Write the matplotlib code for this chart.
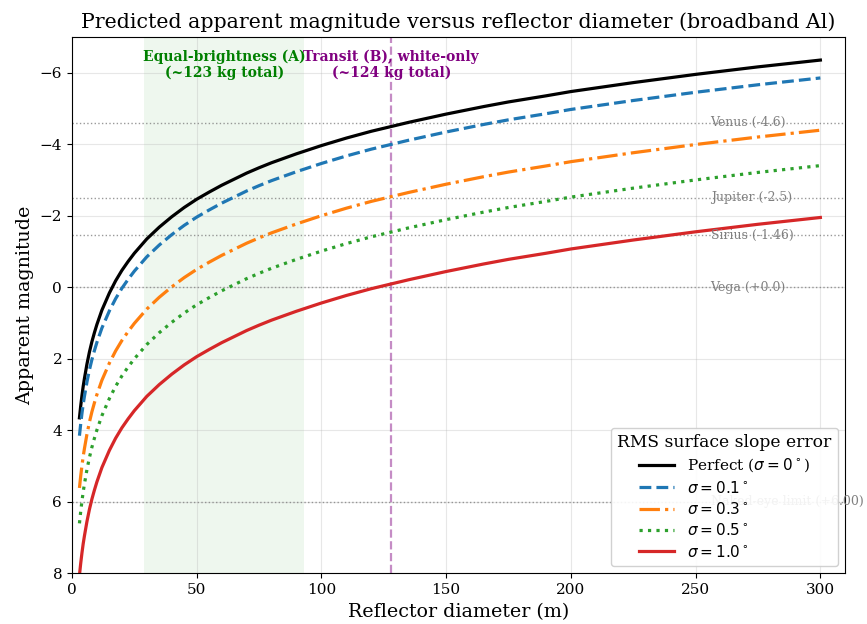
import matplotlib
matplotlib.use("Agg")
import matplotlib.pyplot as plt

plt.rcParams['font.family'] = ['DejaVu Serif']
plt.rcParams['mathtext.fontset'] = 'dejavusans'

# reflector diameter (m)
diameter = [3, 3.5, 4, 4.5, 5, 6, 7, 8, 9, 10, 12, 15, 17.5, 20, 22.5, 25, 30, 35, 40,
            45, 50, 55, 60, 65, 70, 75, 80, 90, 100, 110, 120, 135, 150, 165, 175,
            190, 200, 225, 250, 275, 300]

# apparent magnitude
mag_perfect = [3.65, 3.32, 3.03, 2.77, 2.55, 2.15, 1.81, 1.52, 1.27, 1.04, 0.64, 0.16,
               -0.18, -0.47, -0.72, -0.95, -1.35, -1.68, -1.97, -2.23, -2.46, -2.66,
               -2.85, -3.02, -3.19, -3.34, -3.48, -3.73, -3.96, -4.17, -4.36, -4.61,
               -4.84, -5.05, -5.18, -5.35, -5.47, -5.72, -5.95, -6.16, -6.35]
mag_s01 = [4.15, 3.82, 3.53, 3.27, 3.05, 2.65, 2.31, 2.02, 1.77, 1.54, 1.14, 0.66,
           0.32, 0.03, -0.22, -0.45, -0.85, -1.18, -1.47, -1.73, -1.96, -2.16,
           -2.35, -2.52, -2.69, -2.84, -2.98, -3.23, -3.46, -3.67, -3.86, -4.11,
           -4.34, -4.55, -4.68, -4.85, -4.97, -5.22, -5.45, -5.66, -5.85]
mag_s03 = [5.61, 5.28, 4.99, 4.73, 4.51, 4.11, 3.77, 3.48, 3.23, 3.00, 2.60, 2.12,
           1.78, 1.49, 1.24, 1.01, 0.61, 0.28, -0.01, -0.27, -0.50, -0.70,
           -0.89, -1.06, -1.23, -1.38, -1.52, -1.77, -2.00, -2.21, -2.40, -2.65,
           -2.88, -3.09, -3.22, -3.39, -3.51, -3.76, -3.99, -4.20, -4.39]
mag_s05 = [6.60, 6.27, 5.98, 5.72, 5.50, 5.10, 4.76, 4.47, 4.22, 3.99, 3.59, 3.11,
           2.77, 2.48, 2.23, 2.00, 1.60, 1.27, 0.98, 0.72, 0.49, 0.29,
           0.10, -0.07, -0.24, -0.39, -0.53, -0.78, -1.01, -1.22, -1.41, -1.66,
           -1.89, -2.10, -2.23, -2.40, -2.52, -2.77, -3.00, -3.21, -3.40]
mag_s10 = [8.05, 7.72, 7.43, 7.17, 6.95, 6.55, 6.21, 5.92, 5.67, 5.44, 5.04, 4.56,
           4.22, 3.93, 3.68, 3.45, 3.05, 2.72, 2.43, 2.17, 1.94, 1.74,
           1.55, 1.38, 1.21, 1.06, 0.92, 0.67, 0.44, 0.23, 0.04, -0.21,
           -0.44, -0.65, -0.78, -0.95, -1.07, -1.32, -1.55, -1.76, -1.95]

series_labels = [r'Perfect ($\sigma=0^\circ$)', r'$\sigma=0.1^\circ$', r'$\sigma=0.3^\circ$',
                 r'$\sigma=0.5^\circ$', r'$\sigma=1.0^\circ$']

# reference stars / planets
ref_names = ['Venus (-4.6)', 'Jupiter (-2.5)', 'Sirius (-1.46)', 'Vega (+0.0)',
             'Naked-eye limit (+6.00)']
ref_mags = [-4.6, -2.5, -1.46, 0.0, 6.0]

band_a = (29, 93)
transit_b = 128

fig = plt.figure(figsize=(8.67, 6.24), dpi=100)
ax = fig.add_subplot(111)
fig.subplots_adjust(left=0.083, right=0.975, top=0.941, bottom=0.081)

ax.axvspan(band_a[0], band_a[1], color='tab:green', alpha=0.08, lw=0)
ax.axvline(transit_b, color='purple', ls='--', lw=1.6, alpha=0.45)

for name, m in zip(ref_names, ref_mags):
    ax.axhline(m, color='gray', ls=':', lw=1.0, alpha=0.8)
    ax.text(256, m, name, fontsize=9, color='gray', va='center', ha='left')

ax.plot(diameter, mag_perfect, color='black', ls='-', lw=2.3, label=series_labels[0])
ax.plot(diameter, mag_s01, color='tab:blue', ls='--', lw=2.3, label=series_labels[1])
ax.plot(diameter, mag_s03, color='tab:orange', ls='-.', lw=2.3, label=series_labels[2])
ax.plot(diameter, mag_s05, color='tab:green', ls=':', lw=2.3, label=series_labels[3])
ax.plot(diameter, mag_s10, color='tab:red', ls='-', lw=2.3, label=series_labels[4])

ax.text(sum(band_a) / 2, -6.22, 'Equal-brightness (A)\n(~123 kg total)', color='green',
        fontsize=10, fontweight='bold', ha='center', va='center')
ax.text(transit_b, -6.22, 'Transit (B), white-only\n(~124 kg total)', color='purple',
        fontsize=10, fontweight='bold', ha='center', va='center')

ax.set_xlim(0, 310)
ax.set_ylim(8, -7)
ax.set_yticks([-6, -4, -2, 0, 2, 4, 6, 8])
ax.tick_params(labelsize=11)
ax.grid(True, alpha=0.3)
ax.set_xlabel('Reflector diameter (m)', fontsize=13.7)
ax.set_ylabel('Apparent magnitude', fontsize=13.7)
ax.set_title('Predicted apparent magnitude versus reflector diameter (broadband Al)',
             fontsize=14.8)

leg = ax.legend(loc='lower right', title='RMS surface slope error', fontsize=11,
                title_fontsize=12.3, framealpha=0.9, labelspacing=0.35,
                handlelength=2.3)

fig.savefig('out.png', dpi=100)
